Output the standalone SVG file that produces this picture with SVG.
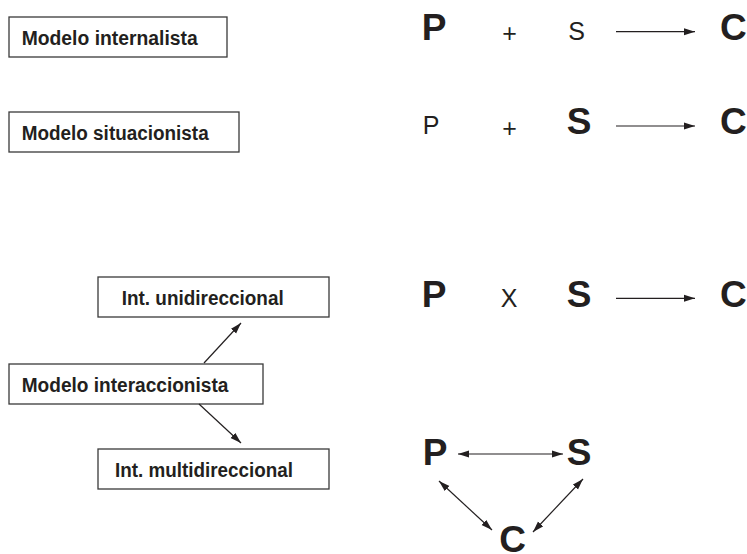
<svg xmlns="http://www.w3.org/2000/svg" width="747" height="554" viewBox="0 0 747 554">
<style>
.box{fill:#fff;stroke:#3a3a3a;stroke-width:1.3}
.lbl{font-family:"Liberation Sans",Arial,sans-serif;font-weight:bold;font-size:19.5px;fill:#231f20}
.big{font-family:"Liberation Sans",Arial,sans-serif;font-weight:bold;font-size:37px;fill:#231f20}
.thin{font-family:"Liberation Sans",Arial,sans-serif;font-weight:normal;font-size:25px;fill:#231f20}
.ln{stroke:#231f20;stroke-width:1.2;fill:none}
.one{marker-end:url(#ah)}
.two{marker-end:url(#ah);marker-start:url(#ah)}
</style>
<defs>
<marker id="ah" markerUnits="userSpaceOnUse" markerWidth="12" markerHeight="8" refX="11" refY="3.5" orient="auto-start-reverse" viewBox="0 0 12 7">
<path d="M0,0 L11,3.5 L0,7 z" fill="#231f20"/>
</marker>
</defs>
<rect width="747" height="554" fill="#fff"/>

<g id="node-internalista">
<rect class="box" x="9" y="17" width="218" height="40"/>
<text class="lbl" x="21.7" y="45" textLength="176" lengthAdjust="spacingAndGlyphs">Modelo internalista</text>
</g>
<g id="node-situacionista">
<rect class="box" x="9" y="112" width="230" height="40"/>
<text class="lbl" x="21.7" y="140" textLength="187" lengthAdjust="spacingAndGlyphs">Modelo situacionista</text>
</g>
<g id="node-unidireccional">
<rect class="box" x="98" y="277" width="231" height="40"/>
<text class="lbl" x="121.7" y="304.5" font-size="20" textLength="162" lengthAdjust="spacingAndGlyphs">Int. unidireccional</text>
</g>
<g id="node-interaccionista">
<rect class="box" x="9" y="364" width="254" height="40"/>
<text class="lbl" x="21.7" y="391.5" font-size="20" textLength="206.7" lengthAdjust="spacingAndGlyphs">Modelo interaccionista</text>
</g>
<g id="node-multidireccional">
<rect class="box" x="98" y="449" width="231" height="40"/>
<text class="lbl" x="115" y="476.5" font-size="20" textLength="178" lengthAdjust="spacingAndGlyphs">Int. multidireccional</text>
</g>

<g id="formula-1">
<text class="big" x="434" y="40" text-anchor="middle">P</text>
<text class="thin" x="509.5" y="42" text-anchor="middle">+</text>
<text class="thin" x="576.5" y="40" text-anchor="middle">S</text>
<text class="big" x="720" y="40">C</text>
</g>
<g id="formula-2">
<text class="thin" x="431" y="134" text-anchor="middle">P</text>
<text class="thin" x="509.5" y="137" text-anchor="middle">+</text>
<text class="big" x="579" y="134" text-anchor="middle">S</text>
<text class="big" x="720" y="134">C</text>
</g>
<g id="formula-3">
<text class="big" x="434" y="307" text-anchor="middle">P</text>
<text class="thin" x="509" y="307" text-anchor="middle" font-size="26">X</text>
<text class="big" x="579" y="307" text-anchor="middle">S</text>
<text class="big" x="720" y="307">C</text>
</g>
<g id="triangle">
<text class="big" x="435" y="465" text-anchor="middle">P</text>
<text class="big" x="579" y="465" text-anchor="middle">S</text>
<text class="big" x="512.5" y="552" text-anchor="middle">C</text>
</g>

<g id="connectors">
<line class="ln one" x1="616" y1="31.7" x2="695" y2="31.7"/>
<line class="ln one" x1="616" y1="126" x2="695" y2="126"/>
<line class="ln one" x1="616" y1="298.3" x2="695" y2="298.3"/>
<line class="ln one" x1="204" y1="363" x2="241" y2="323"/>
<line class="ln one" x1="199" y1="404" x2="241" y2="443"/>
<line class="ln two" x1="458" y1="454" x2="563" y2="454"/>
<line class="ln two" x1="439" y1="481" x2="492" y2="530"/>
<line class="ln two" x1="583" y1="479" x2="533" y2="532"/>
</g>
</svg>
